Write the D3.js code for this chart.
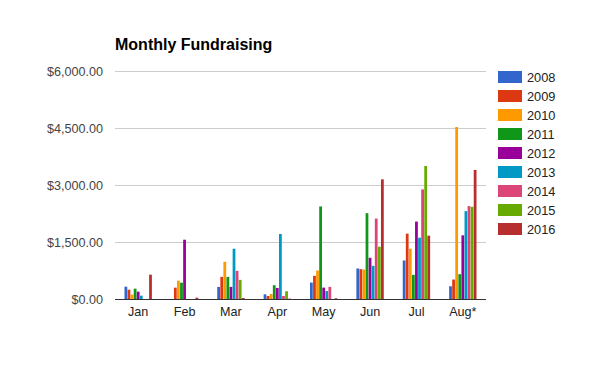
<!DOCTYPE html>
<html><head><meta charset="utf-8">
<script src="https://cdn.jsdelivr.net/npm/d3@7"></script>
<style>body{margin:0;background:#fff;}svg{display:block;font-family:"Liberation Sans",Arial,sans-serif;}</style>
</head><body>
<svg id="c" width="600" height="371"></svg>
<script>
const months = ["Jan","Feb","Mar","Apr","May","Jun","Jul","Aug*"];
const years = ["2008","2009","2010","2011","2012","2013","2014","2015","2016"];
const colors = ["#3366cc","#dc3912","#ff9900","#109618","#990099","#0099c6","#dd4477","#66aa00","#b82e2e"];
const v2008 = [324, 0, 318, 123, 432, 803, 1014, 335];
const v2009 = [245, 298, 582, 79, 609, 785, 1720, 512];
const v2010 = [114, 482, 979, 132, 750, 776, 1323, 4526];
const v2011 = [272, 430, 582, 362, 2435, 2258, 635, 653];
const v2012 = [193, 1560, 318, 291, 300, 1085, 2038, 1676];
const v2013 = [88, 0, 1323, 1711, 212, 873, 1614, 2312];
const v2014 = [0, 0, 741, 79, 318, 2117, 2884, 2444];
const v2015 = [0, 0, 503, 203, 0, 1376, 3500, 2426];
const v2016 = [640, 35, 26, 10, 20, 3149, 1667, 3397];
const yTicks = [0, 1500, 3000, 4500, 6000];
const series = [v2008,v2009,v2010,v2011,v2012,v2013,v2014,v2015,v2016];

const svg = d3.select("#c");
const pLeft = 115, pRight = 486, pTop = 71, pBottom = 299;
const x0 = d3.scaleBand().domain(months).range([pLeft, pRight]).paddingInner(0).paddingOuter(0);
const groupW = 28;
const x1 = d3.scaleBand().domain(years).range([0, groupW]).padding(0.1);
const y = d3.scaleLinear().domain([0, 6000]).range([pBottom, pTop]);
const fmt = d => "$" + d3.format(",.2f")(d);

svg.append("text").attr("x", 115).attr("y", 50).attr("font-size", 16).attr("font-weight", "bold").attr("fill", "#000").text("Monthly Fundraising");

const g = svg.append("g");
g.selectAll("line.grid").data(yTicks.filter(t => t > 0)).join("line")
  .attr("x1", pLeft).attr("x2", pRight).attr("y1", d => Math.round(y(d)) + 0.5).attr("y2", d => Math.round(y(d)) + 0.5)
  .attr("stroke", "#cccccc").attr("stroke-width", 1);
g.selectAll("text.yt").data(yTicks).join("text")
  .attr("x", 103).attr("y", d => y(d) + 4.5).attr("text-anchor", "end")
  .attr("font-size", 12.6).attr("fill", "#444").text(fmt);

months.forEach((m, i) => {
  const gx = x0(m) + (x0.bandwidth() - groupW) / 2;
  series.forEach((s, j) => {
    const v = s[i];
    if (v <= 0) return;
    g.append("rect").attr("x", gx + x1(years[j])).attr("width", x1.bandwidth())
      .attr("y", y(v)).attr("height", y(0) - y(v)).attr("fill", colors[j]);
  });
});

g.append("line").attr("x1", pLeft).attr("x2", pRight).attr("y1", pBottom + 0.5).attr("y2", pBottom + 0.5).attr("stroke", "#333").attr("stroke-width", 1);

g.selectAll("text.xt").data(months).join("text")
  .attr("x", d => x0(d) + x0.bandwidth() / 2).attr("y", 316).attr("text-anchor", "middle")
  .attr("font-size", 12.6).attr("fill", "#222").text(d => d);

const lg = svg.append("g");
years.forEach((yr, i) => {
  const cy = 77 + 19 * i;
  lg.append("rect").attr("x", 498).attr("y", cy - 6).attr("width", 24).attr("height", 12).attr("fill", colors[i]);
  lg.append("text").attr("x", 527).attr("y", cy + 4.5).attr("font-size", 12.8).attr("fill", "#222").text(yr);
});
</script>
</body></html>
